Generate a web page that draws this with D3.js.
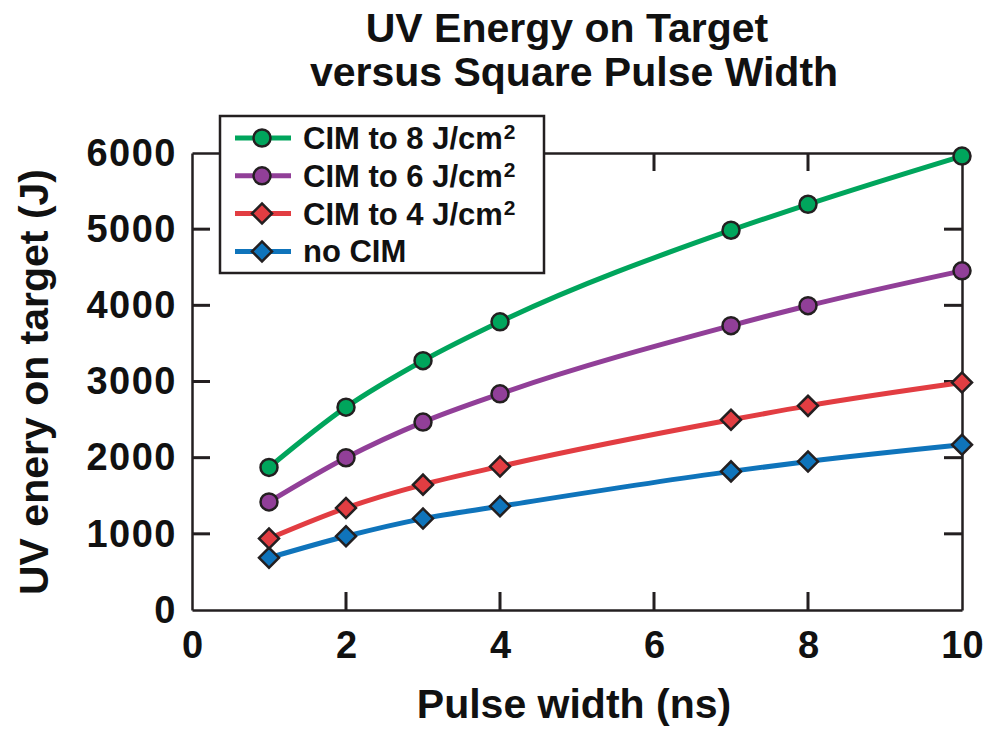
<!DOCTYPE html>
<html>
<head>
<meta charset="utf-8">
<script src="https://cdn.jsdelivr.net/npm/d3@7"></script>
<style>
  body { margin: 0; background: #fff; }
  text { font-family: "Liberation Sans", Arial, sans-serif; font-weight: bold; fill: #111; }
</style>
</head>
<body>
<script>
// data
var pulseWidth = [1, 2, 3, 4, 7, 8, 10];
var cim8 = [1872, 2663, 3273, 3784, 4986, 5327, 5960];
var cim6 = [1419, 1999, 2467, 2838, 3733, 3995, 4453];
var cim4 = [938, 1340, 1646, 1885, 2497, 2680, 2986];
var noCim = [685, 968, 1200, 1361, 1820, 1951, 2170];

var xTicks = [0, 2, 4, 6, 8, 10];
var yTicks = [0, 1000, 2000, 3000, 4000, 5000, 6000];

var series = [
  {name: "CIM to 8 J/cm", sup: "2", values: cim8, color: "#00a55c", shape: "circle"},
  {name: "CIM to 6 J/cm", sup: "2", values: cim6, color: "#913f98", shape: "circle"},
  {name: "CIM to 4 J/cm", sup: "2", values: cim4, color: "#e23d42", shape: "diamond"},
  {name: "no CIM", sup: "", values: noCim, color: "#0f74bb", shape: "diamond"}
];

var W = 983, H = 729;
var margin = {left: 192, right: 21, top: 153, bottom: 119};
var ink = "#231f20";

var svg = d3.select("body").append("svg")
    .attr("width", W)
    .attr("height", H);

var x = d3.scaleLinear().domain([0, 10]).range([margin.left, W - margin.right]);
var y = d3.scaleLinear().domain([0, 6000]).range([H - margin.bottom, margin.top]);

// title
svg.append("text")
    .attr("x", 567).attr("y", 42)
    .attr("text-anchor", "middle")
    .style("font-size", "41px")
    .text("UV Energy on Target");
svg.append("text")
    .attr("x", 574).attr("y", 86)
    .attr("text-anchor", "middle")
    .style("font-size", "41px")
    .text("versus Square Pulse Width");

// frame + labels from d3 axes, the inward ticks drawn separately
function styleAxis(g, spacing) {
  g.select(".domain").attr("stroke", ink).attr("stroke-width", 2.5);
  g.selectAll(".tick line").remove();
  g.selectAll(".tick text")
      .attr("fill", "#111")
      .style("font-size", "38px")
      .style("letter-spacing", spacing);
}

svg.append("g")
    .attr("transform", "translate(0," + y(0) + ")")
    .call(d3.axisBottom(x).tickValues(xTicks).tickSize(0).tickPadding(21))
    .call(styleAxis, "0px");
svg.append("g")
    .attr("transform", "translate(" + x(0) + ",0)")
    .call(d3.axisLeft(y).tickValues(yTicks).tickFormat(d3.format("d")).tickSize(0).tickPadding(15))
    .call(styleAxis, "1.5px");
svg.append("g")
    .attr("transform", "translate(0," + y(6000) + ")")
    .call(d3.axisTop(x).tickValues(xTicks).tickFormat("").tickSize(0))
    .call(styleAxis, "0px");
svg.append("g")
    .attr("transform", "translate(" + x(10) + ",0)")
    .call(d3.axisRight(y).tickValues(yTicks).tickFormat("").tickSize(0))
    .call(styleAxis, "0px");

// inward ticks on all four sides
var tickLen = 18;
var tickRects = [];
xTicks.slice(1, -1).forEach(function(t) {
  tickRects.push({x: x(t) - 1.5, y: y(0) - tickLen, w: 3, h: tickLen});
  tickRects.push({x: x(t) - 1.5, y: y(6000), w: 3, h: tickLen});
});
yTicks.slice(1, -1).forEach(function(t) {
  tickRects.push({x: x(0), y: y(t) - 1.5, w: tickLen, h: 3});
  tickRects.push({x: x(10) - tickLen, y: y(t) - 1.5, w: tickLen, h: 3});
});
svg.append("g").selectAll("rect").data(tickRects)
  .enter().append("rect")
    .attr("x", function(d) { return d.x; })
    .attr("y", function(d) { return d.y; })
    .attr("width", function(d) { return d.w; })
    .attr("height", function(d) { return d.h; })
    .attr("fill", ink);

// axis titles
svg.append("text")
    .attr("x", 574).attr("y", 718)
    .attr("text-anchor", "middle")
    .style("font-size", "41px")
    .text("Pulse width (ns)");
svg.append("text")
    .attr("transform", "translate(48,382) rotate(-90)")
    .attr("text-anchor", "middle")
    .style("font-size", "41px")
    .text("UV enery on target (J)");

// curves
var line = d3.line()
    .x(function(d, i) { return x(pulseWidth[i]); })
    .y(function(d) { return y(d); })
    .curve(d3.curveMonotoneX);

var diamond = d3.symbol().type(d3.symbolSquare).size(200);

function drawMarker(g, shape, color) {
  if (shape == "circle") {
    g.append("circle").attr("r", 8.5);
  } else {
    g.append("path").attr("d", diamond()).attr("transform", "rotate(45)");
  }
  g.selectAll("*")
    .attr("fill", color)
    .attr("stroke", ink)
    .attr("stroke-width", 2.5);
}

series.slice().reverse().forEach(function(s) {
  svg.append("path")
      .datum(s.values)
      .attr("fill", "none")
      .attr("stroke", s.color)
      .attr("stroke-width", 5)
      .attr("d", line);
});
series.slice().reverse().forEach(function(s) {
  s.values.forEach(function(v, i) {
    var g = svg.append("g").attr("transform", "translate(" + x(pulseWidth[i]) + "," + y(v) + ")");
    drawMarker(g, s.shape, s.color);
  });
});

// legend
var legend = svg.append("g");
legend.append("rect")
    .attr("x", 220).attr("y", 116)
    .attr("width", 324).attr("height", 157)
    .attr("fill", "#fff")
    .attr("stroke", ink)
    .attr("stroke-width", 2.5);

series.forEach(function(s, i) {
  var ly = 138 + i * 37.8;
  legend.append("line")
      .attr("x1", 235).attr("x2", 291)
      .attr("y1", ly).attr("y2", ly)
      .attr("stroke", s.color)
      .attr("stroke-width", 5);
  drawMarker(legend.append("g").attr("transform", "translate(262," + ly + ")"), s.shape, s.color);
  var t = legend.append("text")
      .attr("x", 303).attr("y", ly + 11)
      .style("font-size", "31px")
      .text(s.name);
  if (s.sup) {
    t.append("tspan")
        .attr("dy", -10)
        .attr("dx", 1)
        .style("font-size", "21px")
        .text(s.sup);
  }
});
</script>
</body>
</html>
